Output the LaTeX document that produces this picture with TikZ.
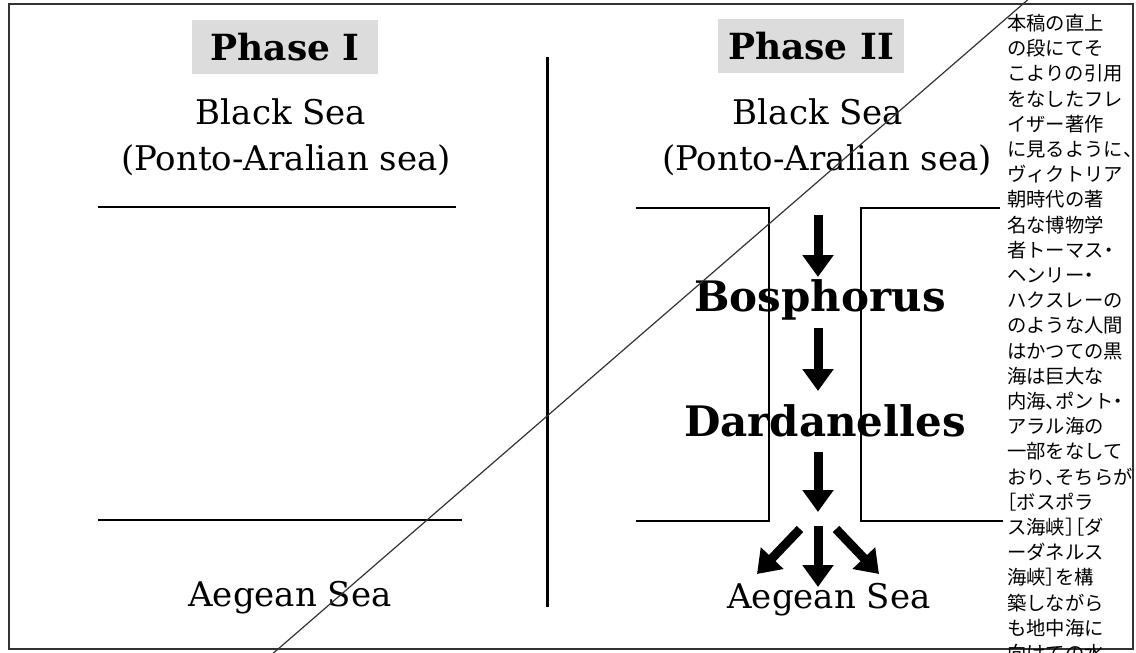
\documentclass[tikz,border=0pt]{standalone}
\usepackage{fontspec}
\setmainfont{DejaVu Serif}
\newfontfamily\jpfont{Noto Sans CJK JP}
\usetikzlibrary{arrows.meta}

\definecolor{framegray}{HTML}{333333}
\definecolor{phasegray}{HTML}{DCDCDC}

% 半角约物
\newcommand\jcomma{\makebox[0.5em][l]{、}}
\newcommand\jdot{\makebox[0.5em][c]{・}}
\newcommand\jlb{\makebox[0.5em][r]{［}}
\newcommand\jrb{\makebox[0.5em][l]{］}}

\tikzset{
  phasebox/.style={fill=phasegray, minimum width=139.5pt, minimum height=41pt, inner sep=0pt,
    font=\bfseries\fontsize{27}{30}\selectfont},
  sealabel/.style={inner sep=0pt, font=\fontsize{25.5}{30}\selectfont},
  straitlabel/.style={inner sep=0pt, font=\bfseries\fontsize{31.5}{36}\selectfont},
  flow/.style={line width=6.75pt, -{Triangle[width=22.5pt,length=16.5pt]}},
  shore/.style={line width=1.1pt},
}

\begin{document}
\begin{tikzpicture}[x=0.75pt, y=-0.75pt]
  \useasboundingbox (0,0) rectangle (1136,653);
  \fill[white] (0,0) rectangle (1136,653);
  \draw[framegray, line width=1.5pt] (9,4) rectangle (1133,649);

  % Phase I
  \node[phasebox] (phaseone) at (285,47) {Phase I};
  \node[sealabel] (blackone) at (281,112) {Black Sea};
  \node[sealabel] (pontoone) at (286,160) {(Ponto-Aralian sea)};
  \draw[shore] (98,207) -- (456,207);
  \draw[shore] (98,520) -- (462,520);
  \node[sealabel] (aegeanone) at (290,598) {Aegean Sea};

  % 中间分隔线
  \coordinate (divtop) at (547,57);
  \coordinate (divbot) at (547,607);
  \draw[line width=2.25pt] (divtop) -- (divbot);

  % Phase II
  \node[phasebox] (phasetwo) at (811,46) {Phase II};
  \node[sealabel] (blacktwo) at (818,112) {Black Sea};
  \node[sealabel] (pontotwo) at (827,160) {(Ponto-Aralian sea)};
  \draw[shore] (636,208) -- (769,208) -- (769,521) -- (636,521);
  \draw[shore] (1000,208) -- (861,208) -- (861,521) -- (1003,521);
  \node[straitlabel] (bosph) at (820,300) {Bosphorus};
  \node[straitlabel] (dard) at (825,421) {Dardanelles};
  \node[sealabel] (aegeantwo) at (829,600) {Aegean Sea};

  % 海水流向
  \coordinate (f1a) at (818,215);
  \coordinate (f1b) at (818,277);
  \coordinate (f2a) at (818,328);
  \coordinate (f2b) at (818,391);
  \coordinate (f3a) at (818,452);
  \coordinate (f3b) at (818,512);
  \coordinate (f4a) at (818,526);
  \coordinate (f4b) at (818,587);
  \coordinate (f5a) at (800,529);
  \coordinate (f5b) at (757,574);
  \coordinate (f6a) at (836,529);
  \coordinate (f6b) at (879,574);
  \foreach \s/\e in {f1a/f1b, f2a/f2b, f3a/f3b, f4a/f4b, f5a/f5b, f6a/f6b}
    \draw[flow] (\s) -- (\e);

  % 斜线
  \coordinate (slashlo) at (270,656);
  \coordinate (slashhi) at (1031,-3);
  \draw[framegray, line width=0.9pt] (slashlo) -- (slashhi);

  \node[anchor=north west, inner sep=0pt, align=left, text=black,
        font=\jpfont\fontsize{14.5}{18.9}\selectfont] (note) at (1007,14)
    {本稿の直上\\の段にてそ\\こよりの引用\\をなしたフレ\\イザー著作\\に見るように\jcomma\\ヴィクトリア\\朝時代の著\\名な博物学\\者トーマス\jdot\\ヘンリー\jdot\\ハクスレーの\\のような人間\\はかつての黒\\海は巨大な\\内海\jcomma ポント\jdot\\アラル海の\\一部をなして\\おり\jcomma そちらが\\\jlb ボスポラ\\ス海峡\jrb\jlb ダ\\ーダネルス\\海峡\jrb を構\\築しながら\\も地中海に\\向けての水};
\end{tikzpicture}
\end{document}
